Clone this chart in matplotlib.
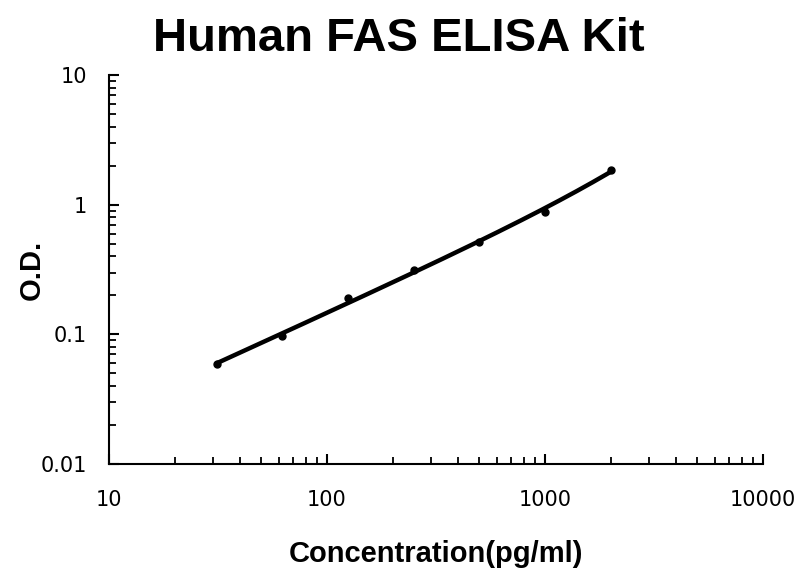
import matplotlib
matplotlib.use("Agg")
import matplotlib.pyplot as plt
import numpy as np
from matplotlib.ticker import LogLocator, FixedLocator, NullFormatter

conc = [31.25, 62.5, 125, 250, 500, 1000, 2000]
od = [0.059, 0.097, 0.19, 0.313, 0.515, 0.877, 1.85]

fig = plt.figure(figsize=(7.98, 5.69), dpi=100)
ax = fig.add_axes([0.1366, 0.1845, 0.8194, 0.6835])

# trendline: log y = a + b*log x + c*x  (least squares)
cx = np.array(conc, dtype=float)
A = np.column_stack([np.ones_like(cx), np.log10(cx), cx])
coef = np.linalg.lstsq(A, np.log10(od), rcond=None)[0]
xs = np.logspace(np.log10(cx[0]), np.log10(cx[-1]), 200)
ys = 10 ** (coef[0] + coef[1] * np.log10(xs) + coef[2] * xs)
ax.plot(xs, ys, color='black', lw=3.2, solid_capstyle='round')
ax.plot(conc, od, 'o', color='black', ms=5)

ax.set_xscale('log')
ax.set_yscale('log')
ax.set_xlim(10, 10000)
ax.set_ylim(0.01, 10)

for s in ['top', 'right']:
    ax.spines[s].set_visible(False)
for s in ['left', 'bottom']:
    ax.spines[s].set_linewidth(1.5)

ax.xaxis.set_major_locator(FixedLocator([10, 100, 1000, 10000]))
ax.yaxis.set_major_locator(FixedLocator([0.01, 0.1, 1, 10]))
ax.set_xticklabels(['10', '100', '1000', '10000'])
ax.set_yticklabels(['0.01', '0.1', '1', '10'])
ax.xaxis.set_minor_locator(LogLocator(base=10, subs=np.arange(2, 10)))
ax.yaxis.set_minor_locator(LogLocator(base=10, subs=np.arange(2, 10)))
ax.xaxis.set_minor_formatter(NullFormatter())
ax.yaxis.set_minor_formatter(NullFormatter())
ax.tick_params(which='major', direction='in', length=7, width=1.5, labelsize=15)
ax.tick_params(which='minor', direction='in', length=5, width=1.3)
ax.tick_params(axis='x', which='major', pad=19)
ax.tick_params(axis='y', which='major', pad=16)

ax.set_xlabel('Concentration(pg/ml)', fontsize=21, fontweight='bold',
              family='Liberation Sans', labelpad=21)
ax.set_ylabel('O.D.', fontsize=21, fontweight='bold', family='Liberation Sans')
ax.yaxis.set_label_coords(-0.097, 0.5)
fig.suptitle('Human FAS ELISA Kit', fontsize=34, fontweight='bold',
             family='Liberation Sans', y=0.97)

fig.savefig('out.png', dpi=100)
